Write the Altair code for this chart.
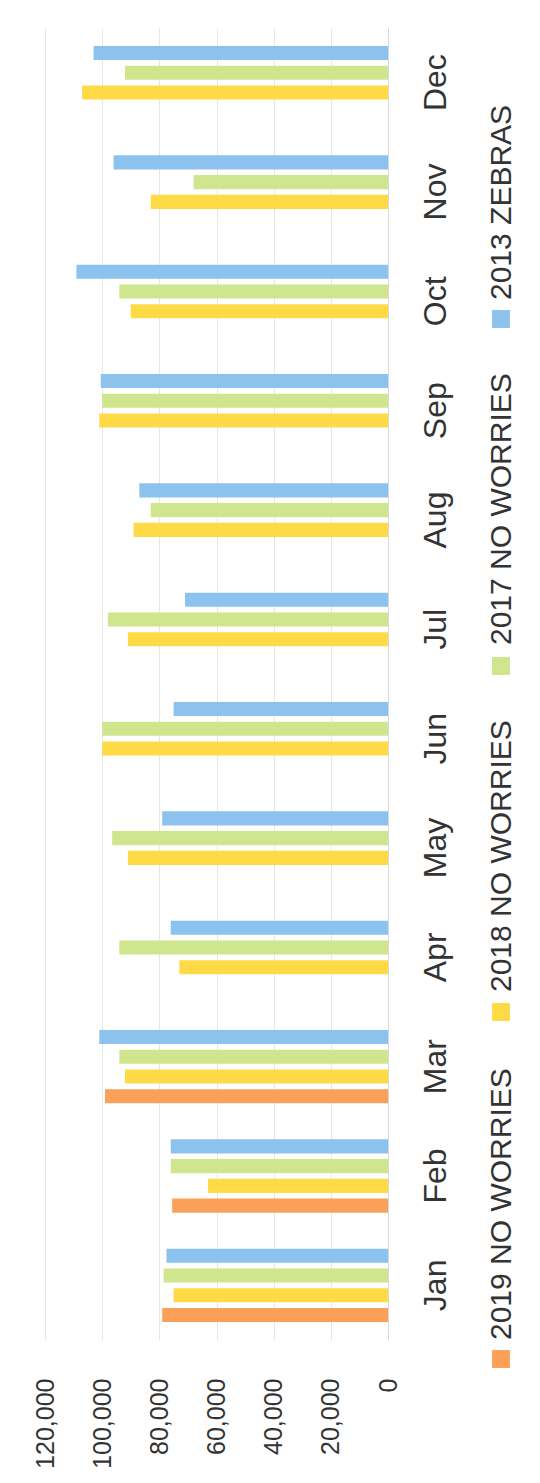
import altair as alt
import pandas as pd

months = ["Jan", "Feb", "Mar", "Apr", "May", "Jun", "Jul", "Aug", "Sep", "Oct", "Nov", "Dec"]
series_names = ["2019 NO WORRIES", "2018 NO WORRIES", "2017 NO WORRIES", "2013 ZEBRAS"]
colors = ["#FBA058", "#FFDA47", "#CFE58E", "#8CC2EE"]

v2019 = [79000, 75500, 99000, None, None, None, None, None, None, None, None, None]
v2018 = [75000, 63000, 92000, 73000, 91000, 100000, 91000, 89000, 101000, 90000, 83000, 107000]
v2017 = [78500, 76000, 94000, 94000, 96500, 100000, 98000, 83000, 100000, 94000, 68000, 92000]
v2013 = [77500, 76000, 101000, 76000, 79000, 75000, 71000, 87000, 100500, 109000, 96000, 103000]

tick_values = [0, 20000, 40000, 60000, 80000, 100000, 120000]

rows = []
for name, vals in zip(series_names, [v2019, v2018, v2017, v2013]):
    for m, v in zip(months, vals):
        if v is not None:
            rows.append({"month": m, "series": name, "value": v})
df = pd.DataFrame(rows)

FONT = "Liberation Sans"
TXT = "#333333"

bars = alt.Chart(df).mark_bar().encode(
    x=alt.X(
        "value:Q",
        scale=alt.Scale(domain=[0, 120000], reverse=True, nice=False),
        axis=alt.Axis(
            values=tick_values, format=",.0f", title=None, labelAngle=270,
            labelAlign="right", labelBaseline="middle", labelPadding=38,
            labelFontSize=25, labelFont=FONT, labelColor=TXT,
            ticks=False, domain=False, grid=True, gridColor="#e6e6e6",
            labelFlush=False, labelOverlap=False,
        ),
    ),
    y=alt.Y(
        "month:N",
        scale=alt.Scale(domain=months[::-1], paddingInner=0.33, paddingOuter=0.165),
        axis=alt.Axis(
            orient="right", title=None, labelAngle=270, labelAlign="center",
            labelBaseline="top", labelPadding=32, labelFontSize=32,
            labelFont=FONT, labelColor=TXT, ticks=False, domain=True,
            domainColor="#d9d9d9", grid=False,
        ),
    ),
    yOffset=alt.YOffset(
        "series:N",
        scale=alt.Scale(domain=series_names[::-1], paddingInner=0.29, paddingOuter=0),
    ),
    color=alt.Color(
        "series:N",
        scale=alt.Scale(domain=series_names, range=colors),
        legend=None,
    ),
)

# custom rotated legend (layout positions in pixels)
leg_x = 456
leg_text_y = [1312, 964, 617, 272]
leg_sq_y = [1331, 984, 638, 291]
layers = [bars]
for name, col, ty, sy in zip(series_names, colors, leg_text_y, leg_sq_y):
    ldf = pd.DataFrame({"label": [name]})
    layers.append(
        alt.Chart(ldf).mark_square(size=320, color=col, opacity=1).encode(
            x=alt.value(leg_x), y=alt.value(sy)
        )
    )
    layers.append(
        alt.Chart(ldf).mark_text(
            angle=270, align="left", baseline="middle", fontSize=30,
            font=FONT, color=TXT,
        ).encode(x=alt.value(leg_x + 1), y=alt.value(ty), text="label:N")
    )

chart = alt.layer(*layers).properties(
    width=343,
    height=1312,
    autosize=alt.AutoSizeParams(type="none"),
    padding={"left": 37, "top": 20, "right": 140, "bottom": 132},
    background="white",
).configure_view(stroke=None)

chart.save("out.html", embed_options={"renderer": "svg", "actions": False})
